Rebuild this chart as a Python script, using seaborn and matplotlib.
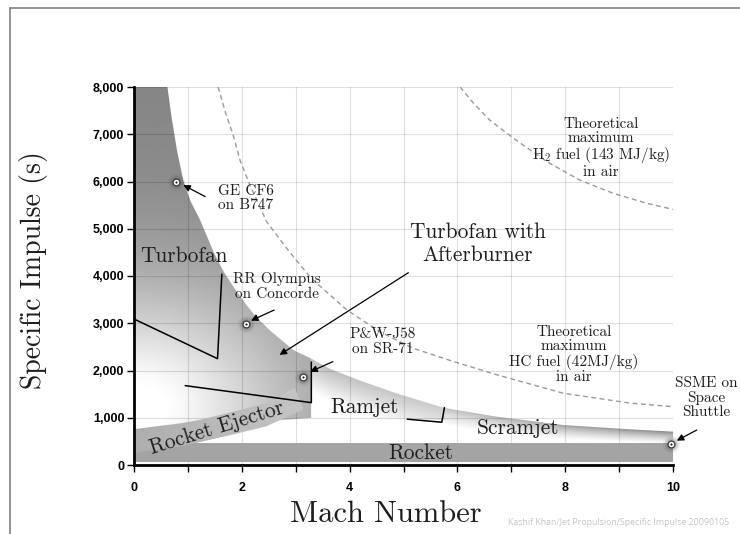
import numpy as np
import pandas as pd
import matplotlib
matplotlib.use("Agg")
import matplotlib.pyplot as plt
import seaborn as sns
from matplotlib.lines import Line2D

# ---------------- data ----------------
mach_ticks = [0, 2, 4, 6, 8, 10]
mach_tick_labels = ["0", "2", "4", "6", "8", "10"]
mach_minor = [1, 3, 5, 7, 9]
isp_ticks = [0, 1000, 2000, 3000, 4000, 5000, 6000, 7000, 8000]
isp_tick_labels = ["0", "1,000", "2,000", "3,000", "4,000", "5,000", "6,000", "7,000", "8,000"]

# upper envelope of the air-breathing regions
env_mach = [0.62, 0.70, 0.80, 0.92, 1.05, 1.22, 1.48, 1.66, 1.84, 2.09, 2.28, 2.52, 2.96,
            3.29, 3.64, 4.25, 4.87, 5.68, 5.77, 6.73, 7.96, 9.2, 10.0]
env_isp = [8000, 7340, 6640, 6000, 5580, 5200, 4500, 4100, 3780, 3380, 3120, 2850, 2430,
           2250, 2030, 1763, 1517, 1234, 1205, 1022, 846, 755, 705]

# theoretical maxima (dashed)
hc_mach = [1.56, 1.70, 1.84, 1.97, 2.15, 2.46, 2.85, 3.28, 3.95, 4.56, 5.18, 5.9, 6.73, 7.96, 9.2, 10.0]
hc_isp = [8000, 7450, 6980, 6440, 5925, 5150, 4560, 3960, 3280, 2820, 2470, 2200, 1910, 1520, 1310, 1234]
h2_mach = [6.05, 6.3, 6.6, 7.04, 7.66, 8.27, 8.89, 9.51, 10.0]
h2_isp = [8000, 7655, 7300, 6915, 6420, 6030, 5750, 5540, 5410]

# region boundary strokes
tf_line_mach = [0.0, 1.55, 1.63]
tf_line_isp = [3090, 2250, 4040]
ab_line_mach = [0.95, 3.29, 3.29]
ab_line_isp = [1680, 1320, 2180]
sj_line_mach = [5.07, 5.71, 5.76]
sj_line_isp = [970, 905, 1215]

# rocket band and rocket ejector band
rocket_mach = [0.0, 10.0]
rocket_low = [70, 70]
rocket_high = [470, 470]
ej_top_mach = [0.0, 0.85, 1.2, 1.78, 2.42, 2.98]
ej_top_isp = [760, 880, 950, 1110, 1300, 1640]
ej_bot_mach = [0.0, 0.85, 1.78, 2.46, 3.14]
ej_bot_isp = [260, 390, 630, 820, 1180]

# engines
engine_names = ["GE CF6", "RR Olympus", "P&W J58", "SSME"]
engine_mach = [0.77, 2.07, 3.14, 9.96]
engine_isp = [6000, 2980, 1870, 450]

# ---------------- style ----------------
sns.set_theme(style="white")
plt.rcParams["mathtext.fontset"] = "cm"
plt.rcParams["font.family"] = ["DejaVu Sans"]
SERIF = "cmr10"
TXT = "#1e1e1e"

fig = plt.figure(figsize=(7.4, 5.34), dpi=100)
ax = fig.add_axes([134 / 740, 69 / 534, 539 / 740, 378 / 534])

XX, YY = np.meshgrid(np.linspace(0, 10, 800), np.linspace(0, 8000, 700))


def gradient_region(px, py, gray, zorder):
    patch = ax.fill(px, py, facecolor="none", edgecolor="none", zorder=zorder)[0]
    im = ax.imshow(gray, extent=[0, 10, 0, 8000], origin="lower", cmap="gray",
                   vmin=0, vmax=1, aspect="auto", interpolation="bilinear", zorder=zorder)
    im.set_clip_path(patch)


top_env = np.interp(XX, env_mach, env_isp)

# Turbofan / afterburner region (radial fade from lower left)
k = env_mach.index(3.29)
ax_x = [0.0] + env_mach[:k + 1] + [3.29, 0.0]
ax_y = [8000] + env_isp[:k + 1] + [1000, 700]
dx = XX * 53.9 * 0.75
dy = (YY - 1200) * 0.04725
d = np.sqrt(dx ** 2 + dy ** 2)
t = np.clip((d - 20) / 110, 0, None)
gA = 0.52 + 0.48 * np.exp(-t ** 1.5)
gradient_region(ax_x, ax_y, gA, 0.5)

# Ramjet region
k2 = env_mach.index(5.77)
bx = env_mach[k:k2 + 1] + [5.77, 3.29]
by = env_isp[k:k2 + 1] + [950, 1000]
topg = np.interp(XX, [3.29, 5.77], [0.74, 0.80])
tb = np.clip((top_env - YY) / 700, 0, 1)
gB = topg + (1 - topg) * tb
gradient_region(bx, by, gB, 0.6)

# Scramjet region
cx = env_mach[k2:] + [10.0, 5.77]
cy = env_isp[k2:] + [470, 470]
dark = np.interp(XX, [5.77, 10], [0.74, 0.48])
fade = np.interp(XX, [5.77, 10], [380, 250])
tc = np.clip((top_env - YY) / fade, 0, 1)
gC = dark + (1 - dark) * tc ** 0.7
gradient_region(cx, cy, gC, 0.7)

# grid on top of the soft regions
ax.set_axisbelow(False)
ax.set_xlim(0, 10)
ax.set_ylim(0, 8000)
ax.set_xticks(mach_ticks, labels=mach_tick_labels, fontsize=9, fontweight="bold",
              fontfamily="Liberation Sans")
ax.set_xticks(mach_minor, minor=True)
ax.set_yticks(isp_ticks, labels=isp_tick_labels, fontsize=9, fontweight="bold",
              fontfamily="Liberation Sans")
ax.grid(True, which="both", color="black", alpha=0.13, lw=0.8)
ax.tick_params(axis="both", which="both", direction="out", length=5, width=1,
               color="black", labelcolor="black")
ax.tick_params(axis="x", which="both", pad=7, bottom=True)
ax.tick_params(axis="y", which="both", pad=2, left=True)

# rocket band
ax.fill_between(rocket_mach, rocket_low, rocket_high, color="#a4a4a4", lw=0, zorder=3)

# rocket ejector band
ej_x = ej_top_mach + ej_bot_mach[::-1]
ej_y = ej_top_isp + ej_bot_isp[::-1]
gE = np.interp(XX, [0, 3.1], [0.68, 0.77])
patch = ax.fill(ej_x, ej_y, facecolor="none", edgecolor="none", zorder=3.2)[0]
im = ax.imshow(gE, extent=[0, 10, 0, 8000], origin="lower", cmap="gray", vmin=0, vmax=1,
               aspect="auto", interpolation="bilinear", zorder=3.2)
im.set_clip_path(patch)

# dashed theoretical limits
sns.lineplot(x=hc_mach, y=hc_isp, sort=False, estimator=None, ax=ax, color="#9a9a9a",
             lw=1.0, linestyle=(0, (3.5, 2.5)), legend=False, zorder=3.5)
sns.lineplot(x=h2_mach, y=h2_isp, sort=False, estimator=None, ax=ax, color="#9a9a9a",
             lw=1.0, linestyle=(0, (3.5, 2.5)), legend=False, zorder=3.5)

# boundary strokes
for lx, ly in [(tf_line_mach, tf_line_isp), (ab_line_mach, ab_line_isp),
               (sj_line_mach, sj_line_isp)]:
    sns.lineplot(x=lx, y=ly, sort=False, estimator=None, ax=ax, color="black", lw=1.1,
                 legend=False, zorder=4)

# engine markers with halo
for s, a in [(150, 0.10), (90, 0.16), (50, 0.22)]:
    ax.scatter(engine_mach, engine_isp, s=s, color="#505050", alpha=a, lw=0, zorder=4.5,
               clip_on=False)
sns.scatterplot(x=engine_mach, y=engine_isp, s=24, color="white", edgecolor="#3a3a3a",
                linewidth=0.9, ax=ax, zorder=5, legend=False, clip_on=False)
ax.scatter(engine_mach, engine_isp, s=2.5, color="#222222", lw=0, zorder=5.5, clip_on=False)

# arrows
arrow_kw = dict(arrowstyle="-|>", color="black", lw=0.9, mutation_scale=10,
                shrinkA=0, shrinkB=0)
for (x0, y0), (x1, y1) in [((1.32, 5680), (0.915, 5925)),
                           ((2.60, 3280), (2.17, 3055)),
                           ((5.09, 4070), (2.70, 2330)),
                           ((3.69, 2187), (3.27, 1975)),
                           ((10.44, 740), (10.07, 515))]:
    ax.annotate("", xy=(x1, y1), xytext=(x0, y0), arrowprops=arrow_kw,
                annotation_clip=False, zorder=6)

# region labels
big = dict(fontsize=15.4, family=SERIF, color=TXT, zorder=7)
ax.text(0.92, 4290, "Turbofan", ha="center", va="baseline", **big)
ax.text(6.38, 4680, "Turbofan with\nAfterburner", ha="center", va="center",
        linespacing=1.2, **big)
ax.text(4.27, 1094, "Ramjet", ha="center", va="baseline", **big)
ax.text(7.12, 656, "Scramjet", ha="center", va="baseline", **big)
ax.text(5.33, 120, "Rocket", ha="center", va="baseline", **big)
ax.text(1.53, 775, "Rocket Ejector", ha="center", va="center", rotation=17.2,
        rotation_mode="anchor", **big)

small = dict(fontsize=11, family=SERIF, color=TXT, zorder=7)
ax.text(1.565, 5650, "GE CF6\non B747", ha="left", va="center", linespacing=1.1, **small)
ax.text(2.65, 3775, "RR Olympus\non Concorde", ha="center", va="center",
        linespacing=1.1, **small)
ax.text(4.62, 2610, "P&W-J58\non SR-71", ha="center", va="center", linespacing=1.1, **small)
ax.text(10.61, 1420, "SSME on\nSpace\nShuttle", ha="center", va="center",
        linespacing=1.05, clip_on=False, **small)
ax.text(8.66, 6710, "Theoretical\nmaximum\n$\\mathrm{H}_2$ fuel (143 MJ/kg)\nin air",
        ha="center", va="center", linespacing=1.0, **small)
ax.text(8.16, 2330, "Theoretical\nmaximum\nHC fuel (42MJ/kg)\nin air",
        ha="center", va="center", linespacing=1.05, **small)

# axes labels
ax.set_xlabel("Mach Number", fontsize=22, family=SERIF, color=TXT)
ax.xaxis.set_label_coords(0.4675, -0.093)
ax.set_ylabel("Specific Impulse (s)", fontsize=20, family=SERIF, color=TXT)
ax.yaxis.set_label_coords(-0.16, 0.516)

for side in ["top", "right"]:
    ax.spines[side].set_visible(False)
for side in ["left", "bottom"]:
    ax.spines[side].set_color("black")
    ax.spines[side].set_linewidth(2)
    ax.spines[side].set_zorder(10)

# frame and credit
fig.add_artist(Line2D([10 / 740, 10 / 740], [0, 1 - 8 / 534], transform=fig.transFigure,
                      color="#808080", lw=1.2))
fig.add_artist(Line2D([10 / 740, 1], [1 - 8 / 534, 1 - 8 / 534], transform=fig.transFigure,
                      color="#808080", lw=1.2))
fig.text(508 / 740, 9 / 534, "Kashif Khan/Jet Propulsion/Specific Impulse 20090105",
         fontsize=6.3, color="#c4c4c4", family="Open Sans", va="baseline", ha="left")

fig.savefig("out.png", dpi=100)
